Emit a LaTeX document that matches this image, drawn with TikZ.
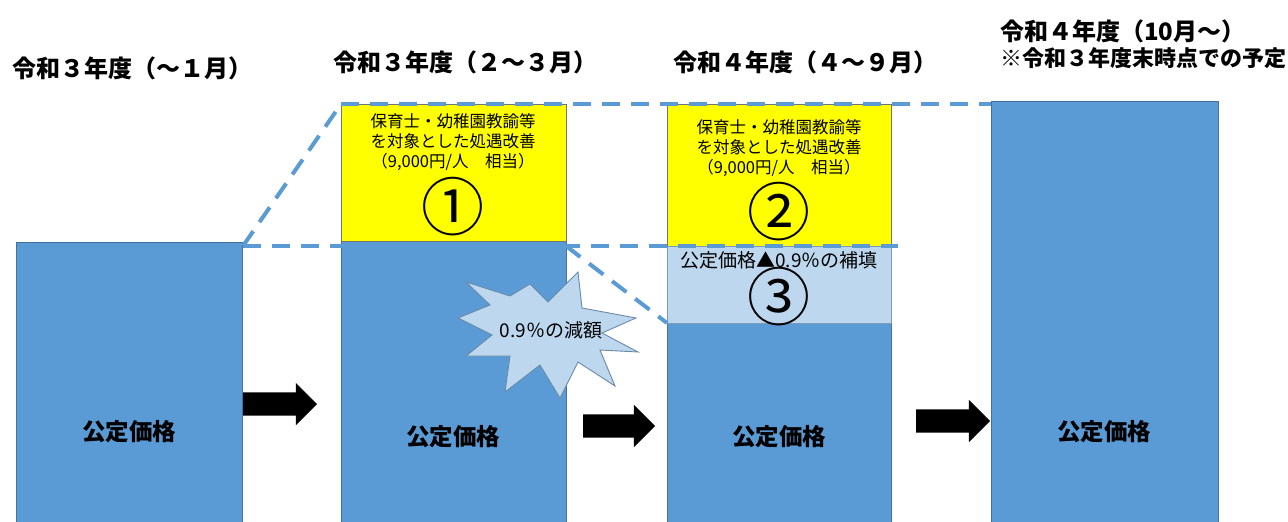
\documentclass[tikz,border=0pt]{standalone}
\usepackage{fontspec}
\setmainfont{Noto Sans CJK JP}
\usetikzlibrary{shapes.arrows}
\definecolor{barblue}{HTML}{5B9BD5}
\definecolor{barline}{HTML}{41719C}
\definecolor{ylw}{HTML}{FFFF00}
\definecolor{lblue}{HTML}{BDD7EE}
\definecolor{burstline}{HTML}{6A8BA8}
\tikzset{
  boxbase/.style={anchor=north west, inner sep=0pt, outer sep=0pt, line width=0.8pt},
  bar/.style={boxbase, fill=barblue, draw=barline},
  ybox/.style={boxbase, fill=ylw, draw=black!55},
  lbox/.style={boxbase, fill=lblue, draw=barline!70},
  dashline/.style={draw=barblue, line width=4pt, dash pattern=on 18pt off 11pt},
  blockarrow/.style={single arrow, fill=black, draw=none, inner sep=11.5pt, outer sep=0pt,
     single arrow head extend=9.5pt, single arrow head indent=0pt, shape border rotate=0, anchor=tail},
  head/.style={anchor=west, font=\fontsize{24}{26}\selectfont\bfseries, inner sep=0pt},
  headsmall/.style={anchor=west, font=\fontsize{22}{26}\selectfont\bfseries, inner sep=0pt},
  barlabel/.style={font=\fontsize{23.5}{26}\selectfont\bfseries, inner sep=0pt},
  boxtext/.style={font=\fontsize{16.5}{20}\selectfont, align=center, inner sep=0pt},
  circnum/.style={font=\fontsize{63}{63}\selectfont, inner sep=0pt},
}
\begin{document}
\begin{tikzpicture}[x=1pt,y=-1pt]
\useasboundingbox (0,0) rectangle (1288,522);
% bars
\node[bar, minimum width=226pt, minimum height=280pt] (bar1) at (16,242) {};
\node[bar, minimum width=225pt, minimum height=281pt] (bar2) at (341,241) {};
\node[bar, minimum width=224pt, minimum height=199pt] (bar3) at (667,323) {};
\node[bar, minimum width=227pt, minimum height=421pt] (bar4) at (991,101) {};
% boxes
\node[ybox, minimum width=225pt, minimum height=137pt] (yb1) at (341,104) {};
\node[ybox, minimum width=224pt, minimum height=142pt] (yb2) at (667,104) {};
\node[lbox, minimum width=224pt, minimum height=77pt] (lb3) at (667,246) {};
% starburst
\draw[fill=lblue, draw=burstline, line width=0.9pt]
  (578,272) -- (582,308) -- (636,318) -- (602,333) -- (638,352) -- (600,350)
  -- (615,386) -- (578,362) -- (560,398) -- (540,365) -- (505,392) -- (510,356)
  -- (466,356) -- (492,335) -- (458,318) -- (490,305) -- (466,282) -- (510,296)
  -- (530,284) -- (548,302) -- cycle;
\node[font=\fontsize{19}{22}\selectfont, inner sep=0pt] (burst) at (551,330) {0.9％の減額};
% dashed guide lines
\coordinate (d1) at (243,246);
\coordinate (d2) at (898,246);
\draw[dashline] (d1) -- (yb1.north west);
\draw[dashline] (yb1.north west) -- (yb1.north west -| bar4.west);
\draw[dashline] (d1) -- (d2);
\draw[dashline] (d1 -| bar2.east) -- (bar3.north west);
% arrows
\node[blockarrow, minimum height=74pt] (a1) at (243,404) {};
\node[blockarrow, minimum height=72pt] (a2) at (583,426) {};
\node[blockarrow, minimum height=74pt] (a3) at (916,421) {};
% headers
\node[head] (h1) at (12,68) {令和３年度（～１月）};
\node[head] (h2) at (333,62) {令和３年度（２～３月）};
\node[head] (h3) at (673,62) {令和４年度（４～９月）};
\node[head] (h4) at (1000,31) {令和４年度（10月～）};
\node[headsmall] (h4b) at (1000,58) {※令和３年度末時点での予定};
% bar labels
\node[barlabel] (l1) at (129,432) {公定価格};
\node[barlabel] (l2) at (453,437) {公定価格};
\node[barlabel] (l3) at (779,437) {公定価格};
\node[barlabel] (l4) at (1104,432) {公定価格};
% box texts
\node[boxtext] (t1) at (453,142) {保育士・幼稚園教諭等\\を対象とした処遇改善\\（9,000円/人　相当）};
\node[circnum] (c1) at (453,207) {①};
\node[boxtext] (t2) at (779,148) {保育士・幼稚園教諭等\\を対象とした処遇改善\\（9,000円/人　相当）};
\node[circnum] (c2) at (779,212) {②};
\node[font=\fontsize{19}{22}\selectfont, inner sep=0pt] (t3) at (779,260) {公定価格▲0.9％の補填};
\node[circnum] (c3) at (779,297) {③};
\end{tikzpicture}
\end{document}
